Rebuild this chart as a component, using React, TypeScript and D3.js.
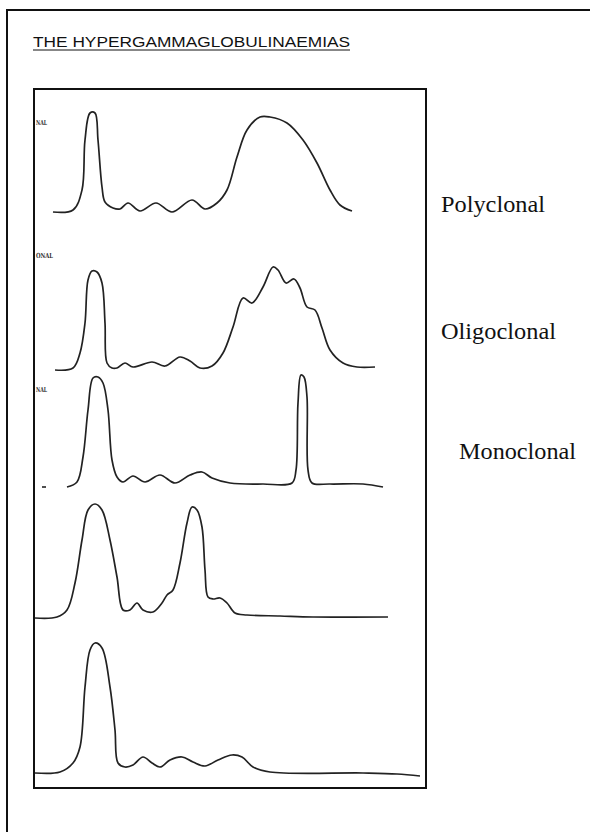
import React from "react";
import * as d3 from "d3";

// Densitometer traces: x = mobility position (0..392 across the strip), y = relative density
const polyX = [19, 39, 48, 51, 56, 61, 64, 68, 71, 79, 86, 94, 106, 122, 138, 158, 171, 183, 193, 203, 213, 226, 236, 253, 269, 283, 296, 306, 318];
const polyY = [1, 3, 23, 73, 100, 100, 73, 26, 11, 5, 4, 10, 2, 10, 1, 13, 4, 10, 23, 56, 83, 96, 96, 90, 73, 50, 23, 8, 2];

const oligoX = [21, 39, 46, 51, 54, 58, 63, 68, 71, 73, 78, 83, 91, 99, 118, 131, 146, 156, 166, 178, 189, 199, 209, 218, 229, 239, 244, 252, 260, 266, 273, 281, 288, 296, 309, 323, 341];
const oligoY = [0, 2, 17, 47, 90, 99, 98, 87, 47, 7, 2, 2, 7, 3, 8, 4, 13, 9, 2, 4, 17, 43, 72, 67, 83, 103, 100, 87, 91, 82, 63, 60, 42, 20, 7, 3, 3];

const monoX = [33, 43, 49, 54, 59, 64, 69, 74, 78, 83, 89, 99, 111, 126, 141, 156, 168, 178, 196, 229, 258, 262, 264, 267, 270, 273, 274, 278, 296, 329, 349];
const monoY = [0, 5, 30, 77, 109, 110, 104, 77, 27, 10, 5, 11, 5, 12, 4, 12, 15, 9, 4, 3, 4, 17, 84, 112, 110, 90, 17, 4, 3, 3, 0];
const monoStubX = [8, 12];
const monoStubY = [0, 0];

const fourthX = [1, 23, 33, 41, 48, 54, 61, 68, 76, 83, 89, 96, 103, 109, 119, 128, 133, 139, 146, 153, 158, 163, 168, 171, 174, 179, 186, 193, 201, 213, 246, 279, 354];
const fourthY = [0, 1, 8, 35, 78, 108, 114, 108, 78, 41, 8, 8, 15, 8, 6, 15, 23, 28, 55, 95, 111, 108, 91, 48, 21, 19, 20, 15, 5, 3, 2, 1, 1];

const fifthX = [1, 26, 39, 46, 51, 56, 61, 68, 76, 81, 84, 91, 99, 109, 118, 126, 136, 148, 159, 171, 184, 198, 208, 219, 236, 329, 363, 386];
const fifthY = [3, 4, 13, 29, 89, 126, 133, 128, 89, 46, 13, 9, 11, 19, 13, 9, 16, 19, 14, 10, 16, 21, 19, 9, 4, 3, 2, 0];

const stripLabels = ["NAL", "ONAL", "NAL"];
const sideLabels = ["Polyclonal", "Oligoclonal", "Monoclonal"];
const titleText = "THE HYPERGAMMAGLOBULINAEMIAS";

export default function App() {
  const W = 590;
  const H = 832;
  const box = { x0: 34, y0: 89, x1: 426, y1: 788 };
  const x = d3.scaleLinear().domain([0, 392]).range([box.x0, box.x1]);

  const panels = [
    { xs: polyX, ys: polyY, base: 213 },
    { xs: oligoX, ys: oligoY, base: 370 },
    { xs: monoX, ys: monoY, base: 487 },
    { xs: fourthX, ys: fourthY, base: 618 },
    { xs: fifthX, ys: fifthY, base: 776 },
  ];

  const paths = panels.map((p) => {
    const y = d3.scaleLinear().domain([0, 100]).range([p.base, p.base - 100]);
    const line = d3
      .line<number>()
      .x((_, i) => x(p.xs[i]))
      .y((v) => y(v))
      .curve(d3.curveCatmullRom.alpha(0.5));
    return line(p.ys) || "";
  });

  const yMono = d3.scaleLinear().domain([0, 100]).range([487, 387]);
  const stubPath = d3
    .line<number>()
    .x((_, i) => x(monoStubX[i]))
    .y((v) => yMono(v))(monoStubY) || "";

  const stripLabelPos = [
    { x: 36, y: 125, w: 11 },
    { x: 36, y: 258, w: 17 },
    { x: 36, y: 392, w: 11 },
  ];
  const sidePos = [
    { x: 441, y: 212, w: 104 },
    { x: 441, y: 339, w: 115 },
    { x: 459, y: 459, w: 117 },
  ];

  return (
    <svg
      width={W}
      height={H}
      style={{ position: "absolute", left: 0, top: 0, background: "#fff" }}
    >
      <rect x={0} y={0} width={W} height={H} fill="#fff" />
      {/* outer page frame */}
      <path d={`M7,${H + 5} L7,10 L${W + 5},10`} fill="none" stroke="#111" strokeWidth={2} />
      {/* title */}
      <text
        x={33}
        y={47}
        fontFamily="Liberation Sans, Arial, sans-serif"
        fontSize={15}
        textLength={317}
        lengthAdjust="spacingAndGlyphs"
        fill="#111"
      >
        {titleText}
      </text>
      <line x1={33} x2={350} y1={50} y2={50} stroke="#111" strokeWidth={1} />
      {/* strip box */}
      <rect
        x={box.x0}
        y={box.y0}
        width={box.x1 - box.x0}
        height={box.y1 - box.y0}
        fill="#fff"
        stroke="#111"
        strokeWidth={2}
      />
      {stripLabels.map((t, i) => (
        <text
          key={i}
          x={stripLabelPos[i].x}
          y={stripLabelPos[i].y}
          fontFamily="DejaVu Serif, serif"
          fontWeight="bold"
          fontSize={7}
          textLength={stripLabelPos[i].w}
          lengthAdjust="spacingAndGlyphs"
          fill="#333"
        >
          {t}
        </text>
      ))}
      {paths.map((d, i) => (
        <path key={i} d={d} fill="none" stroke="#222" strokeWidth={1.7} strokeLinejoin="round" />
      ))}
      <path d={stubPath} fill="none" stroke="#222" strokeWidth={1.6} />
      {sideLabels.map((t, i) => (
        <text
          key={t}
          x={sidePos[i].x}
          y={sidePos[i].y}
          fontFamily="Liberation Serif, Times New Roman, serif"
          fontSize={23}
          textLength={sidePos[i].w}
          lengthAdjust="spacingAndGlyphs"
          fill="#111"
        >
          {t}
        </text>
      ))}
    </svg>
  );
}
